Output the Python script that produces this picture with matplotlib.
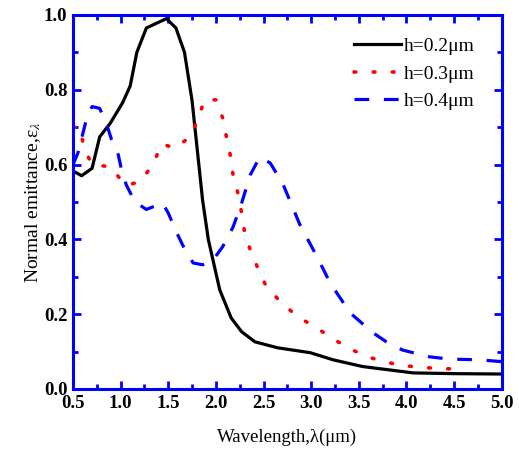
import matplotlib
matplotlib.use('Agg')
import matplotlib.pyplot as plt
from matplotlib.ticker import MultipleLocator

plt.rcParams['font.family'] = ['Liberation Serif', 'DejaVu Serif']
plt.rcParams['mathtext.fontset'] = 'stix'

# h = 0.2 um
x1 = [0.5, 0.52, 0.59, 0.70, 0.78, 0.89, 1.02, 1.10, 1.17, 1.27, 1.48, 1.58, 1.67, 1.75,
      1.86, 1.92, 2.04, 2.16, 2.27, 2.41, 2.65, 2.99, 3.23, 3.54, 4.07, 4.5, 5.0]
y1 = [0.58, 0.58, 0.57, 0.59, 0.674, 0.71, 0.765, 0.81, 0.90, 0.965, 0.99, 0.965, 0.90, 0.77,
      0.505, 0.40, 0.265, 0.19, 0.153, 0.126, 0.11, 0.097, 0.078, 0.060, 0.043, 0.041, 0.04]

# h = 0.3 um
x2 = [0.5, 0.57, 0.62, 0.70, 0.89, 1.05, 1.20, 1.34, 1.43, 1.57, 1.73, 1.81, 1.88, 2.0,
      2.07, 2.11, 2.15, 2.18, 2.23, 2.27, 2.30, 2.36, 2.44, 2.53, 2.69, 2.86, 3.06, 3.23,
      3.41, 3.59, 3.77, 3.96, 4.14, 4.33, 4.55]
y2 = [0.70, 0.70, 0.64, 0.60, 0.594, 0.545, 0.553, 0.60, 0.655, 0.644, 0.674, 0.72, 0.773, 0.773,
      0.725, 0.674, 0.626, 0.572, 0.524, 0.47, 0.42, 0.372, 0.323, 0.273, 0.23, 0.193, 0.163, 0.134,
      0.107, 0.086, 0.073, 0.062, 0.059, 0.054, 0.054]

# h = 0.4 um
x3 = [0.5, 0.55, 0.6, 0.65, 0.70, 0.78, 0.85, 0.905, 0.975, 1.01, 1.06, 1.15, 1.27, 1.44,
      1.50, 1.59, 1.66, 1.76, 1.86, 1.97, 2.07, 2.18, 2.27, 2.36, 2.46, 2.57, 2.70, 2.88,
      3.06, 3.20, 3.41, 3.65, 3.79, 3.96, 4.24, 4.45, 4.77, 5.0]
y3 = [0.60, 0.63, 0.68, 0.73, 0.755, 0.75, 0.71, 0.666, 0.626, 0.585, 0.545, 0.50, 0.48, 0.497,
      0.47, 0.417, 0.38, 0.337, 0.332, 0.345, 0.38, 0.433, 0.497, 0.572, 0.62, 0.604, 0.55, 0.44,
      0.354, 0.283, 0.203, 0.15, 0.126, 0.104, 0.086, 0.080, 0.078, 0.073]

fig = plt.figure(figsize=(5.19, 4.54), dpi=100)
ax = fig.add_axes([0.1407, 0.1432, 0.826, 0.824])

ax.plot(x1, y1, color='black', lw=2.3, label='h=0.2\u03bcm')
ax.plot(x2, y2, color='red', lw=2.6, linestyle=(0, (0.5, 4.8)), dash_capstyle='round',
        label='h=0.3\u03bcm')
ax.plot(x3, y3, color='blue', lw=2.3, linestyle=(0, (4.6, 4.6)), label='h=0.4\u03bcm')

ax.set_xlim(0.5, 5.0)
ax.set_ylim(0.0, 1.0)
ax.xaxis.set_major_locator(MultipleLocator(0.5))
ax.xaxis.set_minor_locator(MultipleLocator(0.25))
ax.yaxis.set_major_locator(MultipleLocator(0.2))
ax.yaxis.set_minor_locator(MultipleLocator(0.1))

for s in ax.spines.values():
    s.set_color('blue')
    s.set_linewidth(2.2)
ax.tick_params(which='both', direction='in', top=True, right=True, colors='blue',
               labelcolor='black', width=2)
ax.tick_params(which='major', length=6, pad=4)
ax.tick_params(which='minor', length=3.5)
for lab in ax.get_xticklabels() + ax.get_yticklabels():
    lab.set_fontweight('bold')
    lab.set_fontsize(13.5)

ax.set_xlabel('Wavelength,\u03bb(\u03bcm)', fontsize=13.5, labelpad=12)
ax.set_ylabel('Normal emittance,\u03b5$_{\\lambda}$', fontsize=14, labelpad=1)

leg = ax.legend(loc='upper right', frameon=False, fontsize=14, handlelength=2.4,
                handletextpad=0.15, labelspacing=0.5, borderaxespad=0.0,
                bbox_to_anchor=(0.955, 0.96))

fig.savefig('out.png', dpi=100)
